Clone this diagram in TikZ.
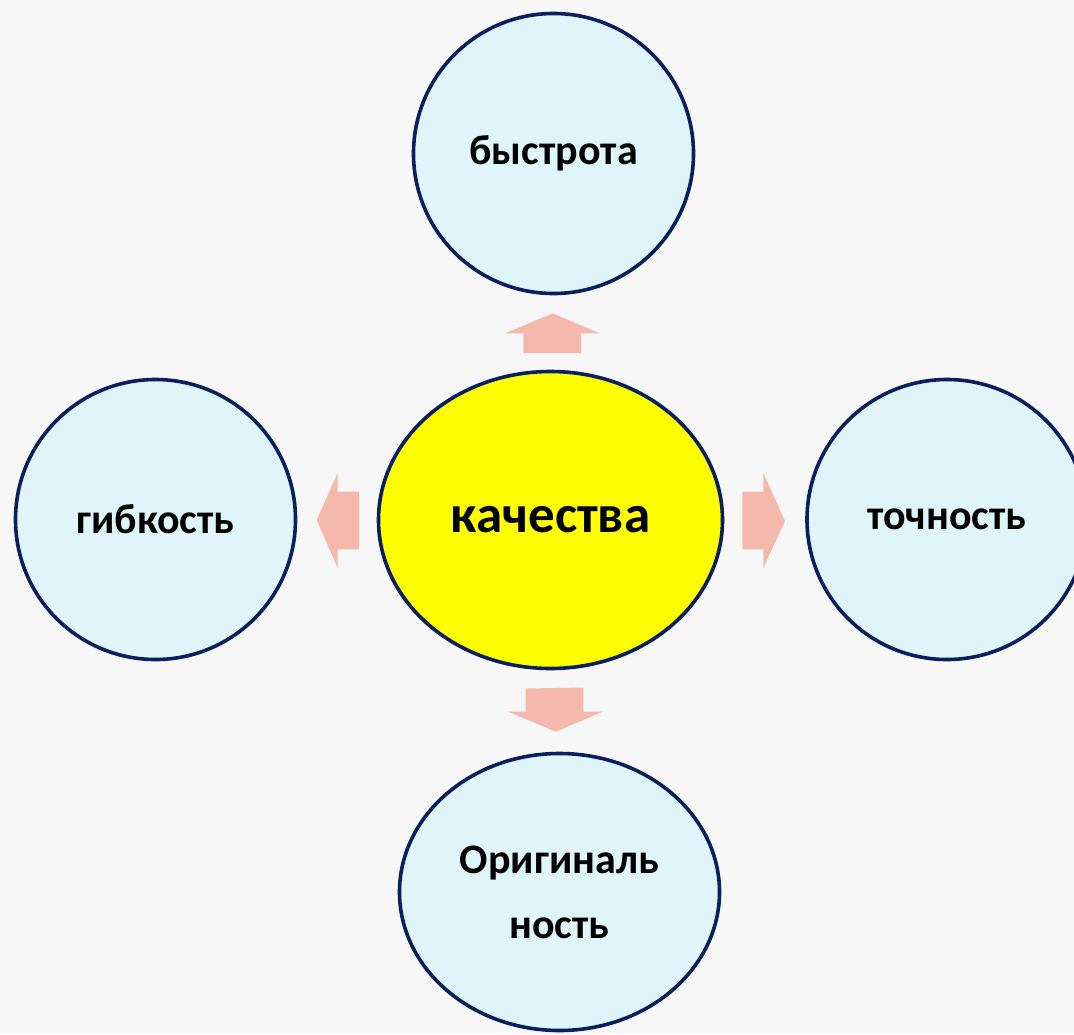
\documentclass[tikz,border=0pt]{standalone}
\usepackage{fontspec}
\setmainfont{Carlito}
\usetikzlibrary{shapes.geometric}
\definecolor{bgc}{HTML}{F7F7F7}
\definecolor{bubfill}{HTML}{DFF5FA}
\definecolor{bubline}{HTML}{0A1F5C}
\definecolor{arrc}{HTML}{F4B8AC}
\definecolor{coreyellow}{HTML}{FFFF00}
\tikzset{
  bubble/.style={ellipse, draw=bubline, line width=3.6pt, fill=bubfill, inner sep=0pt,
    font=\fontsize{42}{65}\selectfont\bfseries, align=center},
  core/.style={bubble, fill=coreyellow, font=\fontsize{53}{60}\selectfont\bfseries},
  blockarrow/.style={fill=arrc, draw=none}
}
\begin{document}
\begin{tikzpicture}[x=1pt,y=-1pt]
\useasboundingbox (0,0) rectangle (1074,1034);
\fill[bgc] (0,0) rectangle (1074,1034);
\clip (0,0) rectangle (1074,1034);
\node[bubble, minimum width=280pt, minimum height=280pt] (top) at (553.5,153.5) {быстрота};
\node[bubble, minimum width=280pt, minimum height=280pt] (left) at (155.5,519.5) {гибкость};
\node[bubble, minimum width=280pt, minimum height=280pt] (right) at (947,519.5) {точность};
\node[bubble, minimum width=320pt, minimum height=277pt] (bottom) at (559.5,892) {Оригиналь\\ность};
\node[core, minimum width=344pt, minimum height=297pt] (center) at (550.5,520) {качества};
% block arrows
\fill[blockarrow] (523.3,353) -- (523.3,333.3) -- (505,333.3) -- (552.7,313.3) -- (600,333.3) -- (581,333.3) -- (581,353) -- cycle;
\fill[blockarrow] (359,491.7) -- (337.7,491.7) -- (337.7,473) -- (316.7,520) -- (337.7,568) -- (337.7,549.3) -- (359,549.3) -- cycle;
\fill[blockarrow] (742.3,491.7) -- (763.3,491.7) -- (763.3,473) -- (785,521) -- (763.3,568) -- (763.3,549.3) -- (742.3,549.3) -- cycle;
\fill[blockarrow] (525.7,688.5) -- (583.3,687.5) -- (583.3,711.7) -- (602.7,711.7) -- (555.7,731.7) -- (508,711.7) -- (525.7,711.7) -- cycle;
\end{tikzpicture}
\end{document}
